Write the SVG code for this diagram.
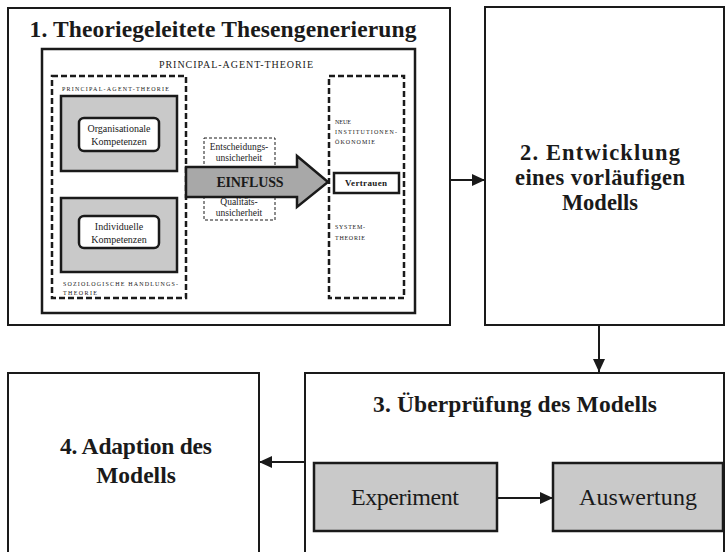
<svg xmlns="http://www.w3.org/2000/svg" width="727" height="552" viewBox="0 0 727 552" font-family="'Liberation Serif','DejaVu Serif',serif">
<style>
text{font-family:'Liberation Serif','Times New Roman','DejaVu Serif',serif;fill:#1a1a1a}
.big{font-size:23.5px;font-weight:bold;text-anchor:middle}
.b2{font-size:22.5px;font-weight:bold;text-anchor:middle}
.box{fill:#fff;stroke:#1a1a1a;stroke-width:2}
.solid{fill:none;stroke:#1a1a1a;stroke-width:2.5}
.dash{fill:none;stroke:#1a1a1a;stroke-width:2.5;stroke-dasharray:6 3}
.thin{fill:none;stroke:#1a1a1a;stroke-width:1;stroke-dasharray:3 2}
.gray{fill:#c9c9c9;stroke:#1a1a1a;stroke-width:2.5}
.white{fill:#fff;stroke:#1a1a1a;stroke-width:2.5}
.tiny{font-size:6px}
.sm{font-size:10px;text-anchor:middle}
.xs{font-size:9.5px;text-anchor:middle}
.conn{stroke:#1a1a1a;stroke-width:2;fill:none;marker-end:url(#ah)}
.mid{font-size:24px;text-anchor:middle}
</style>
<defs>
<marker id="ah" markerUnits="userSpaceOnUse" markerWidth="13" markerHeight="12" refX="13" refY="6" orient="auto">
<path d="M0,0 L13,6 L0,12 z" fill="#1a1a1a"/>
</marker>
</defs>
<rect width="727" height="552" fill="#fff"/>

<g id="node1">
<rect class="box" x="8" y="8" width="442" height="317"/>
<text class="big" x="223" y="37" textLength="387">1. Theoriegeleitete Thesengenerierung</text>
<rect class="solid" x="42" y="49" width="373" height="264"/>
<text x="236" y="68" font-size="10" text-anchor="middle" textLength="154">PRINCIPAL-AGENT-THEORIE</text>
<g id="left-frame">
<rect class="dash" x="52" y="76" width="134" height="222"/>
<text class="tiny" x="62" y="91" textLength="107">PRINCIPAL-AGENT-THEORIE</text>
<rect class="gray" x="61" y="96" width="116" height="75"/>
<rect class="white" x="79" y="118" width="80" height="33" rx="5"/>
<text class="sm" x="119" y="132">Organisationale</text>
<text class="sm" x="119" y="145">Kompetenzen</text>
<rect class="gray" x="61" y="198" width="116" height="74"/>
<rect class="white" x="79" y="216" width="80" height="32" rx="5"/>
<text class="sm" x="119" y="230">Individuelle</text>
<text class="sm" x="119" y="243">Kompetenzen</text>
<text class="tiny" x="63" y="286" textLength="115">SOZIOLOGISCHE HANDLUNGS-</text>
<text class="tiny" x="63" y="295" textLength="34">THEORIE</text>
</g>
<g id="influence">
<rect class="thin" x="204" y="138" width="71" height="82"/>
<text class="xs" x="239" y="150">Entscheidungs-</text>
<text class="xs" x="239" y="161">unsicherheit</text>
<text class="xs" x="239" y="205">Qualitäts-</text>
<text class="xs" x="239" y="216">unsicherheit</text>
<polygon points="186,167 297,167 297,156 328,182 297,207 297,197 186,197" fill="#a8a8a8" stroke="#1a1a1a" stroke-width="2.5" stroke-linejoin="miter"/>
<text x="250" y="187" font-size="14" font-weight="bold" text-anchor="middle" textLength="67">EINFLUSS</text>
</g>
<g id="right-frame">
<rect class="dash" x="329" y="76" width="75" height="222"/>
<text class="tiny" x="335" y="124">NEUE</text>
<text class="tiny" x="335" y="134" textLength="62">INSTITUTIONEN-</text>
<text class="tiny" x="335" y="144" textLength="40">ÖKONOMIE</text>
<rect class="white" x="334" y="173" width="65" height="20"/>
<text x="366" y="186" font-size="9" font-weight="bold" text-anchor="middle" textLength="42">Vertrauen</text>
<text class="tiny" x="335" y="229" textLength="30">SYSTEM-</text>
<text class="tiny" x="335" y="240" textLength="30">THEORIE</text>
</g>
</g>

<g id="node2">
<rect class="box" x="485" y="7" width="239" height="318"/>
<text class="b2" x="600" y="160" textLength="160">2. Entwicklung</text>
<text class="b2" x="600" y="185" textLength="170">eines vorläufigen</text>
<text class="b2" x="600" y="210">Modells</text>
</g>

<g id="node3">
<rect class="box" x="305" y="373" width="419" height="190"/>
<text class="big" x="515" y="412" textLength="284">3. Überprüfung des Modells</text>
</g>

<g id="experiment">
<rect class="gray" x="314" y="463" width="183" height="68"/>
<text class="mid" x="405" y="505" textLength="108">Experiment</text>
</g>

<g id="auswertung">
<rect class="gray" x="553" y="463" width="170" height="68"/>
<text class="mid" x="638" y="505" textLength="118">Auswertung</text>
</g>

<g id="node4">
<rect class="box" x="8" y="373" width="251" height="190"/>
<text class="big" x="136" y="454" textLength="152">4. Adaption des</text>
<text class="big" x="136" y="483">Modells</text>
</g>

<g id="connectors">
<line class="conn" x1="450" y1="180" x2="485" y2="180"/>
<line class="conn" x1="599" y1="325" x2="599" y2="372"/>
<line class="conn" x1="305" y1="462" x2="259" y2="462"/>
<line class="conn" x1="497" y1="498" x2="553" y2="498"/>
</g>
</svg>
